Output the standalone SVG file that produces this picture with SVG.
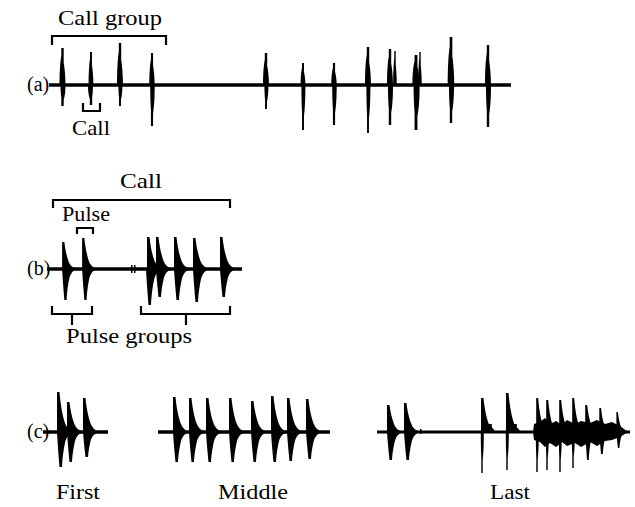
<svg xmlns="http://www.w3.org/2000/svg" xmlns:xlink="http://www.w3.org/1999/xlink" width="635" height="507" viewBox="0 0 635 507">
<style>
text{font-family:"Liberation Serif","Times New Roman",serif;fill:#000}
.lbl{font-size:22px;text-anchor:middle}
.pl{font-size:20px}
.base{stroke:#000;stroke-width:3.5;fill:none}
.br{stroke:#000;stroke-width:2.2;fill:none}
.w{fill:#000}
</style>
<defs>
<path id="au" d="M-3,0 C-3,-0.3 -2.5,-0.6 -1.2,-0.8 V-1 H1.2 V-0.6 C2.5,-0.4 3,-0.15 3,0 Z"/>
<path id="ad" d="M-2,0 C-2,0.3 -1.5,0.5 -1.2,0.6 V1 H1.2 V0.7 C2.5,0.5 3,0.3 3,0 Z"/>
<path id="du" d="M-1,0 V-1 H1.5 C2.5,-0.7 4,-0.5 6,-0.3 C8,-0.12 11,-0.04 16,0 Z"/>
<path id="dd" d="M-1,0 C0,0.5 1,0.8 1.5,1 H4 C4.5,0.7 6,0.45 7,0.3 C9,0.12 11,0.04 16,0 Z"/>
</defs>
<rect width="635" height="507" fill="#fff"/>

<g id="panel-a">
<text class="pl" x="27" y="91">(a)</text>
<line class="base" x1="49" y1="85" x2="511" y2="85"/>
<g class="w">
<use xlink:href="#au" transform="translate(62.5,85) scale(1,37)"/><use xlink:href="#ad" transform="translate(62.5,85) scale(1,21)"/>
<use xlink:href="#au" transform="translate(91,85) scale(0.8,33)"/><use xlink:href="#ad" transform="translate(91,85) scale(-1,20)"/>
<use xlink:href="#au" transform="translate(120,85) scale(1,42)"/><use xlink:href="#ad" transform="translate(120,85) scale(0.8,21)"/>
<use xlink:href="#au" transform="translate(152,85) scale(0.9,32)"/><use xlink:href="#ad" transform="translate(152,85) scale(0.9,41)"/>
<use xlink:href="#au" transform="translate(266,85) scale(1,32)"/><use xlink:href="#ad" transform="translate(266,85) scale(0.8,24)"/>
<use xlink:href="#au" transform="translate(303,85) scale(0.8,22)"/><use xlink:href="#ad" transform="translate(303,85) scale(0.8,45)"/>
<use xlink:href="#au" transform="translate(334,85) scale(0.9,22)"/><use xlink:href="#ad" transform="translate(334,85) scale(0.9,40)"/>
<use xlink:href="#au" transform="translate(368,85) scale(1,38)"/><use xlink:href="#ad" transform="translate(368,85) scale(0.8,48)"/>
<use xlink:href="#au" transform="translate(390,85) scale(1,36)"/><use xlink:href="#ad" transform="translate(390,85) scale(1,40)"/>
<use xlink:href="#au" transform="translate(395,85) scale(0.6,34)"/>
<use xlink:href="#au" transform="translate(416,85) scale(1.2,30)"/><use xlink:href="#ad" transform="translate(416,85) scale(1.2,45)"/>
<use xlink:href="#au" transform="translate(420,85) scale(0.6,33)"/>
<use xlink:href="#au" transform="translate(451,85) scale(1.1,48)"/><use xlink:href="#ad" transform="translate(451,85) scale(1,38)"/>
<use xlink:href="#au" transform="translate(488,85) scale(1,40)"/><use xlink:href="#ad" transform="translate(488,85) scale(1,42)"/>
</g>
</g>

<g id="panel-b">
<text class="pl" x="27" y="275">(b)</text>
<line class="base" x1="47" y1="269" x2="242" y2="269"/>
<g class="w">
<use xlink:href="#du" transform="translate(63,269) scale(0.9,27)"/><use xlink:href="#dd" transform="translate(63,269) scale(0.9,31)"/>
<use xlink:href="#du" transform="translate(83,269) scale(0.9,31)"/><use xlink:href="#dd" transform="translate(83,269) scale(0.9,31)"/>
<rect x="131" y="265" width="1.5" height="8"/><rect x="134" y="265" width="1.5" height="8"/>
<use xlink:href="#du" transform="translate(148,269) scale(1,32)"/><use xlink:href="#dd" transform="translate(147,269) scale(1,36)"/>
<use xlink:href="#du" transform="translate(157,269) scale(1,32)"/><use xlink:href="#dd" transform="translate(157,269) scale(1,28)"/>
<use xlink:href="#du" transform="translate(175,269) scale(1,32)"/><use xlink:href="#dd" transform="translate(175,269) scale(1,31)"/>
<use xlink:href="#du" transform="translate(194,269) scale(1,31)"/><use xlink:href="#dd" transform="translate(194,269) scale(1,33)"/>
<use xlink:href="#du" transform="translate(221,269) scale(1,32)"/><use xlink:href="#dd" transform="translate(221,269) scale(1,28)"/>
</g>
</g>

<g id="panel-c">
<text class="pl" x="27" y="438">(c)</text>
<line class="base" x1="43" y1="432" x2="108" y2="432"/>
<line class="base" x1="158" y1="432" x2="330" y2="432"/>
<line class="base" x1="377" y1="432" x2="630" y2="432" style="stroke-width:3"/>
<g class="w">
<use xlink:href="#du" transform="translate(58,432) scale(1,40)"/><use xlink:href="#dd" transform="translate(58,432) scale(1,35)"/>
<use xlink:href="#du" transform="translate(68,432) scale(1,30)"/><use xlink:href="#dd" transform="translate(68,432) scale(1,30)"/>
<use xlink:href="#du" transform="translate(84,432) scale(1,34)"/><use xlink:href="#dd" transform="translate(84,432) scale(1,25)"/>

<use xlink:href="#du" transform="translate(174,432) scale(1,35)"/><use xlink:href="#dd" transform="translate(174,432) scale(1,30)"/>
<use xlink:href="#du" transform="translate(190,432) scale(1,34)"/><use xlink:href="#dd" transform="translate(190,432) scale(1,30)"/>
<use xlink:href="#du" transform="translate(207,432) scale(1,34)"/><use xlink:href="#dd" transform="translate(207,432) scale(1,30)"/>
<use xlink:href="#du" transform="translate(230,432) scale(1,34)"/><use xlink:href="#dd" transform="translate(230,432) scale(1,30)"/>
<use xlink:href="#du" transform="translate(252,432) scale(1,31)"/><use xlink:href="#dd" transform="translate(252,432) scale(1,30)"/>
<use xlink:href="#du" transform="translate(272,432) scale(1,36)"/><use xlink:href="#dd" transform="translate(272,432) scale(1,30)"/>
<use xlink:href="#du" transform="translate(288,432) scale(1,34)"/><use xlink:href="#dd" transform="translate(288,432) scale(1,29)"/>
<use xlink:href="#du" transform="translate(307,432) scale(1,33)"/><use xlink:href="#dd" transform="translate(307,432) scale(1,27)"/>

<use xlink:href="#du" transform="translate(388,432) scale(1,27)"/><use xlink:href="#dd" transform="translate(388,432) scale(1,28)"/>
<use xlink:href="#du" transform="translate(405,432) scale(1,29)"/><use xlink:href="#dd" transform="translate(405,432) scale(1,28)"/>
<rect x="420" y="429" width="1.5" height="5"/>
<use xlink:href="#du" transform="translate(482,432) scale(1,34)"/><use xlink:href="#ad" transform="translate(482,432) scale(0.6,41)"/>
<use xlink:href="#au" transform="translate(490,432) scale(1.5,8)"/>
<use xlink:href="#du" transform="translate(507,432) scale(1,39)"/><use xlink:href="#ad" transform="translate(507,432) scale(0.6,38)"/>
<use xlink:href="#au" transform="translate(515,432) scale(1.5,8)"/>
<path d="M533,432 L534,424 L540,422 L545,418 L550,424 L556,421 L562,425 L567,420 L575,424 L581,421 L590,423 L597,420 L605,424 L612,422 L620,426 L628,432 L620,437 L612,440 L605,441 L597,446 L590,442 L581,447 L575,443 L567,446 L562,442 L556,447 L550,443 L545,447 L540,442 L534,440 Z"/>
<use xlink:href="#du" transform="translate(537,432) scale(0.8,34)"/><use xlink:href="#ad" transform="translate(537,432) scale(0.6,40)"/>
<use xlink:href="#du" transform="translate(547,432) scale(0.8,32)"/><use xlink:href="#ad" transform="translate(547,432) scale(0.6,38)"/>
<use xlink:href="#du" transform="translate(560,432) scale(0.8,32)"/><use xlink:href="#ad" transform="translate(560,432) scale(0.6,40)"/>
<use xlink:href="#du" transform="translate(573,432) scale(0.8,34)"/><use xlink:href="#ad" transform="translate(573,432) scale(0.6,36)"/>
<use xlink:href="#du" transform="translate(586,432) scale(0.8,27)"/><use xlink:href="#dd" transform="translate(586,432) scale(0.7,28)"/>
<use xlink:href="#du" transform="translate(600,432) scale(0.7,24)"/><use xlink:href="#dd" transform="translate(600,432) scale(0.7,22)"/>
<use xlink:href="#du" transform="translate(617,432) scale(0.6,20)"/><use xlink:href="#dd" transform="translate(617,432) scale(0.6,16)"/>
</g>
<text class="lbl" x="78" y="499" textLength="44" lengthAdjust="spacingAndGlyphs">First</text>
<text class="lbl" x="253" y="499" textLength="70" lengthAdjust="spacingAndGlyphs">Middle</text>
<text class="lbl" x="510" y="499" textLength="40" lengthAdjust="spacingAndGlyphs">Last</text>
</g>

<g id="connectors">
<path class="br" d="M52,45 V36 H166 V45"/>
<path class="br" d="M83,103 V111 H100 V103"/>
<path class="br" d="M53,208 V200 H230 V208"/>
<path class="br" d="M77,234 V228 H93 V234"/>
<path class="br" d="M52,306 V314 H92 V306 M72,314 V325"/>
<path class="br" d="M141,306 V314 H230 V306 M186,314 V325"/>
</g>

<g id="labels">
<text class="lbl" x="110" y="25" textLength="104" lengthAdjust="spacingAndGlyphs">Call group</text>
<text class="lbl" x="91" y="135" textLength="38" lengthAdjust="spacingAndGlyphs">Call</text>
<text class="lbl" x="141" y="188" textLength="42" lengthAdjust="spacingAndGlyphs">Call</text>
<text class="lbl" x="86" y="221" textLength="48" lengthAdjust="spacingAndGlyphs">Pulse</text>
<text class="lbl" x="129" y="343" textLength="126" lengthAdjust="spacingAndGlyphs">Pulse groups</text>
</g>
</svg>
